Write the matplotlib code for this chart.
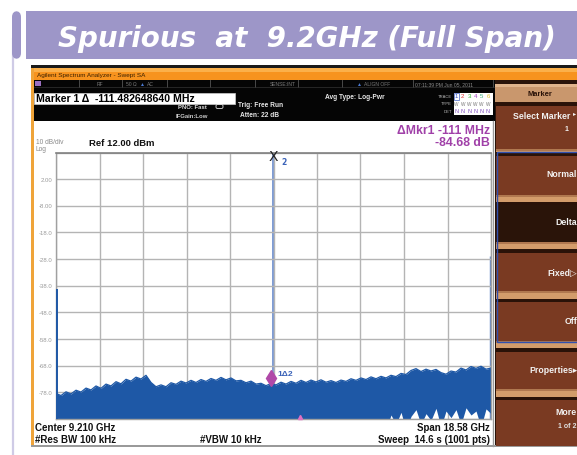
import numpy as np
import matplotlib
matplotlib.use("Agg")
import matplotlib.pyplot as plt
from matplotlib.patches import Rectangle, FancyBboxPatch

# ---------------- data ----------------
start_ghz = -0.08
stop_ghz = 18.50
ref_level = 12.0
bottom_level = -88.0
ytick_values = [2, -8, -18, -28, -38, -48, -58, -68, -78]
ytick_labels = ["2.00", "-8.00", "-18.0", "-28.0", "-38.0", "-48.0", "-58.0", "-68.0", "-78.0"]

# noise floor upper envelope (dBm), read left to right across the span
noise_top = [-78.4, -79.2, -77.8, -78.6, -77.2, -77.9, -76.4, -77.1, -75.6, -76.5,
             -74.9, -75.6, -74.0, -74.8, -73.1, -73.8, -72.3, -73.0, -71.6, -74.3,
             -75.9, -75.2, -75.9, -74.4, -75.0, -73.8, -74.5, -73.5, -74.3, -73.2,
             -73.9, -72.8, -73.5, -72.4, -73.3, -72.6, -73.7, -73.5, -74.4, -73.8,
             -74.9, -74.6, -75.5, -74.7, -75.2, -74.2, -74.9, -73.9, -74.6, -73.5,
             -74.3, -73.4, -74.1, -73.3, -74.2, -73.6, -74.3, -73.4, -73.9, -72.9,
             -73.5, -72.6, -73.2, -72.2, -72.9, -72.0, -72.6, -71.6, -72.1, -70.9,
             -71.3, -69.8, -69.1, -70.2, -69.3, -70.0, -69.4, -70.6, -71.2, -70.0,
             -70.4, -68.9, -69.6, -68.3, -69.0, -68.2, -69.3, -68.9]
# noise floor lower envelope (dBm); values below the screen bottom are clipped
noise_bottom = [-95] * 66 + [-92, -86.5, -90, -85.5, -92, -87.0, -84.5, -90, -86.0, -88.5,
                             -84.0, -91, -85.0, -87.5, -84.5, -90, -83.8, -86.5, -85.0, -91,
                             -84.2, -86.0]

spike_freqs = [-0.04, 9.20, 18.45]
spike_levels = [-39.3, 12.2, -27.0]

marker1_freq = 9.089
marker1_level = -72.6
marker2_freq = 9.20

# ---------------- figure ----------------
W, H = 577, 456
fig = plt.figure(figsize=(W / 100, H / 100), dpi=100)
bg = fig.add_axes([0, 0, 1, 1])
bg.set_xlim(0, W)
bg.set_ylim(H, 0)
bg.axis("off")

def rect(x0, y0, x1, y1, color, z=1, **kw):
    bg.add_patch(Rectangle((x0, y0), x1 - x0, y1 - y0, facecolor=color,
                           edgecolor=kw.pop("ec", "none"), lw=kw.pop("lw", 0), zorder=z, **kw))

def txt(x, y, s, **kw):
    kw.setdefault("va", "center")
    kw.setdefault("family", ["Liberation Sans", "DejaVu Sans"])
    bg.text(x, y, s, **kw)

# banner
bg.plot([13, 13], [40, 456], color="#CFCBE6", lw=1.6, zorder=1)
bg.add_patch(FancyBboxPatch((12, 12), 9, 48, boxstyle="round,pad=0,rounding_size=6",
                            facecolor="#9D96C8", edgecolor="none", zorder=2))
rect(26, 12, 577, 60, "#9D96C8", z=2)
txt(307, 39, "Spurious  at  9.2GHz (Full Span)", color="white", fontsize=20,
    fontweight="bold", style="italic", ha="center", family=["DejaVu Sans"], zorder=3)

# screenshot frame
rect(31, 66, 577, 69, "#1A1A1A", z=2)
rect(31, 69, 577, 81, "#F7931E", z=2)
rect(31, 69, 577, 73, "#FBB04A", z=2)
rect(31, 69, 34, 448, "#EFA43A", z=3)
rect(34, 81, 577, 122, "#050505", z=2)
rect(34, 122, 494, 447, "white", z=2)
rect(31, 446, 577, 448, "#9A9A9A", z=3)
bg.plot([493, 493], [122, 447], color="#9A9A9A", lw=1, zorder=3)
txt(37, 75.5, "Agilent Spectrum Analyzer - Swept SA", color="#3A2000", fontsize=4.6, zorder=4)

# status row
for xd in [79, 122, 167, 210, 255, 298, 342, 413, 493]:
    bg.plot([xd, xd], [81, 88], color="#555555", lw=0.6, zorder=3)
bg.plot([34, 494], [88, 88], color="#333333", lw=0.5, zorder=3)
rect(35, 82, 41, 87, "#9A6FC0", z=4)
txt(100, 84.5, "RF", color="#7A7A7A", fontsize=3.6, ha="center", zorder=4)
txt(126, 84.5, "50 Ω", color="#7A7A7A", fontsize=3.6, zorder=4)
txt(140, 84.5, "▲", color="#4A78D0", fontsize=3.6, zorder=4)
txt(147, 84.5, "AC", color="#7A7A7A", fontsize=3.6, zorder=4)
txt(296, 84.5, "SENSE:INT", color="#7A7A7A", fontsize=3.6, ha="right", zorder=4)
txt(357, 84.5, "▲", color="#4A78D0", fontsize=3.6, zorder=4)
txt(364, 84.5, "ALIGN OFF", color="#7A7A7A", fontsize=3.6, zorder=4)
txt(415, 84.5, "07:11:39 PM Jun 05, 2011", color="#8A8A8A", fontsize=3.6, zorder=4)

# marker readout box
rect(34, 94, 235, 105, "white", z=3, ec="#CCCCCC", lw=0.5)
txt(36, 99.5, "Marker 1 Δ  -111.482648640 MHz", color="black", fontsize=7.6,
    fontweight="bold", zorder=4)
txt(178, 108, "PNO: Fast", color="#DDDDDD", fontsize=4.3, fontweight="bold", zorder=4)
bg.add_patch(FancyBboxPatch((216, 105.5), 7, 4, boxstyle="round,pad=0,rounding_size=1.5",
                            facecolor="none", edgecolor="#DDDDDD", lw=0.6, zorder=4))
txt(176, 117, "IFGain:Low", color="#CCCCCC", fontsize=4.3, fontweight="bold", zorder=4)
txt(238, 106, "Trig: Free Run", color="#E8E8E8", fontsize=4.8, fontweight="bold", zorder=4)
txt(240, 116, "Atten: 22 dB", color="#E8E8E8", fontsize=4.8, fontweight="bold", zorder=4)
txt(325, 98, "Avg Type: Log-Pwr", color="#E8E8E8", fontsize=4.8, fontweight="bold", zorder=4)
txt(452, 97, "TRACE", color="#BBBBBB", fontsize=3.0, ha="right", zorder=4)
txt(452, 104.5, "TYPE", color="#BBBBBB", fontsize=3.0, ha="right", zorder=4)
txt(452, 112, "DET", color="#BBBBBB", fontsize=3.0, ha="right", zorder=4)
rect(454, 93.5, 493, 116, "white", z=3)
trace_cols = ["#3050C0", "#E03030", "#30B030", "#A040C0", "#40B080", "#E0C030"]
for i, c in enumerate(trace_cols):
    txt(456.5 + i * 6.3, 97, str(i + 1), color=c, fontsize=4.4, ha="center", zorder=4)
    txt(456.5 + i * 6.3, 104.5, "W", color="#777777", fontsize=3.4, ha="center", zorder=4)
    txt(456.5 + i * 6.3, 112, "N", color="#8050C0", fontsize=4.0, ha="center", zorder=4)
bg.add_patch(Rectangle((454, 93.5), 5, 7, facecolor="none", edgecolor="#4060C0", lw=0.5, zorder=4))

# delta marker readout
txt(490, 131, "ΔMkr1 -111 MHz", color="#A040A8", fontsize=8.8, fontweight="bold", ha="right", zorder=4)
txt(490, 143, "-84.68 dB", color="#A040A8", fontsize=8.8, fontweight="bold", ha="right", zorder=4)
txt(36, 143, "10 dB/div", color="#8A8A8A", fontsize=4.8, zorder=4)
txt(36, 149.5, "Log", color="#8A8A8A", fontsize=4.8, zorder=4)
txt(89, 143.5, "Ref 12.00 dBm", color="#111111", fontsize=6.8, fontweight="bold", zorder=4)

# bottom annotations
txt(35, 428, "Center 9.210 GHz", color="#111111", fontsize=7.0, fontweight="bold", zorder=4)
txt(35, 440, "#Res BW 100 kHz", color="#111111", fontsize=7.0, fontweight="bold", zorder=4)
txt(200, 440, "#VBW 10 kHz", color="#111111", fontsize=7.0, fontweight="bold", zorder=4)
txt(490, 428, "Span 18.58 GHz", color="#111111", fontsize=7.0, fontweight="bold", ha="right", zorder=4)
txt(490, 440, "Sweep  14.6 s (1001 pts)", color="#111111", fontsize=7.0, fontweight="bold", ha="right", zorder=4)

# right soft-key panel
brown = "#7A3A22"
tan = "#D39C6B"
rect(495, 81, 577, 447, "#2A140A", z=2)
rect(495, 85, 577, 103, "#C9976D", z=3)
rect(495, 85, 577, 88, "#E0B48C", z=3)
txt(540, 94, "Marker", color="#2A1208", fontsize=5.4, fontweight="bold", ha="center", zorder=4)
buttons = [
    (104, 150, "Select Marker", brown),
    (154, 196, "Normal", brown),
    (203, 243, "Delta", "#2A1409"),
    (251, 292, "Fixed▷", brown),
    (300, 342, "Off", brown),
    (350, 390, "Properties▸", brown),
    (398, 447, "More", brown),
]
for (y0, y1, label, col) in buttons:
    rect(496, y0, 577, y1, col, z=3)
    rect(496, y0, 577, y0 + 3, "#2A1208", z=3)
for (y0, y1) in [(196, 203), (243, 250), (292, 300), (342, 349), (390, 398), (150, 153)]:
    rect(496, y0, 577, y1, tan, z=3)
    rect(496, y0, 577, y0 + 2, "#B07850", z=3)
bg.add_patch(Rectangle((496.5, 152.5), 82, 190, facecolor="none", edgecolor="#3050B0",
                       lw=1.0, zorder=5))
kw = dict(color="#F2F2F2", fontsize=6.3, fontweight="bold", ha="right", zorder=6)
txt(570, 117, "Select Marker", **kw)
txt(576, 114, "▸", color="#F2F2F2", fontsize=4.5, ha="right", zorder=6)
txt(568, 130, "1", color="#F2F2F2", fontsize=5.0, fontweight="bold", ha="right", zorder=6)
txt(577, 175, "Normal", **kw)
txt(577, 223, "Delta", **kw)
txt(577, 273, "Fixed▷", **kw)
txt(577, 322, "Off", **kw)
txt(577, 371, "Properties▸", **kw)
txt(577, 413, "More", **kw)
txt(577, 427, "1 of 2", color="#E0E0E0", fontsize=5.0, fontweight="bold", ha="right", zorder=6)

# ---------------- spectrum plot ----------------
ax = fig.add_axes([56 / W, 1 - 420 / H, 435 / W, 266.5 / H])
ax.set_zorder(10)
ax.set_facecolor("white")
ax.set_xlim(start_ghz, stop_ghz)
ax.set_ylim(bottom_level, ref_level)
ax.set_xticks(np.linspace(start_ghz, stop_ghz, 11))
ax.set_yticks(np.arange(bottom_level, ref_level + 1, 10))
ax.grid(True, color="#B4B4B4", lw=1.0, zorder=0)
ax.tick_params(length=0, labelbottom=False, labelleft=False)
for s in ax.spines.values():
    s.set_color("#A0A0A0")
    s.set_linewidth(1.0)
ax.spines["top"].set_color("#808080")
ax.spines["top"].set_linewidth(1.2)

freqs = np.linspace(start_ghz, stop_ghz, len(noise_top))
trace_blue = "#1E58A6"
ax.vlines(spike_freqs[0], bottom_level, spike_levels[0], color=trace_blue, lw=1.4, zorder=3)
ax.vlines(spike_freqs[1], bottom_level, min(spike_levels[1], ref_level), color="#5A80C8", lw=1.1, zorder=1.5)
ax.vlines(spike_freqs[2], bottom_level, spike_levels[2], color="#5A80C8", lw=1.0, zorder=1.5)
ax.fill_between(freqs, noise_bottom, noise_top, color=trace_blue, lw=0, zorder=2)
ax.plot(freqs, noise_top, color=trace_blue, lw=0.9, zorder=2)

for yv, lab in zip(ytick_values, ytick_labels):
    bg.text(52, 153.5 + (ref_level - yv) * 2.665, lab, color="#9A9A9A", fontsize=4.3,
            ha="right", va="center", family=["Liberation Sans"], zorder=4)

# markers
ax.text(marker2_freq, ref_level - 1.5, "X", color="#222222", fontsize=10, ha="center",
        va="center", family=["DejaVu Sans"], zorder=5)
ax.text(marker2_freq + 0.35, ref_level - 3.5, "2", color="#3A62B8", fontsize=5.5,
        fontweight="bold", ha="left", va="center", zorder=5)
ax.plot([marker1_freq], [marker1_level], marker="d", ms=8, color="#B048A8", zorder=5)
ax.text(marker1_freq + 0.3, marker1_level + 1.6, "1Δ2", color="#3A62B8", fontsize=6,
        fontweight="bold", ha="left", va="center", family=["Liberation Sans", "DejaVu Sans"], zorder=5)
ax.plot([10.34], [bottom_level + 0.6], marker="^", ms=3, color="#E070C0", zorder=5, clip_on=False)

fig.savefig("out.png", dpi=100)
